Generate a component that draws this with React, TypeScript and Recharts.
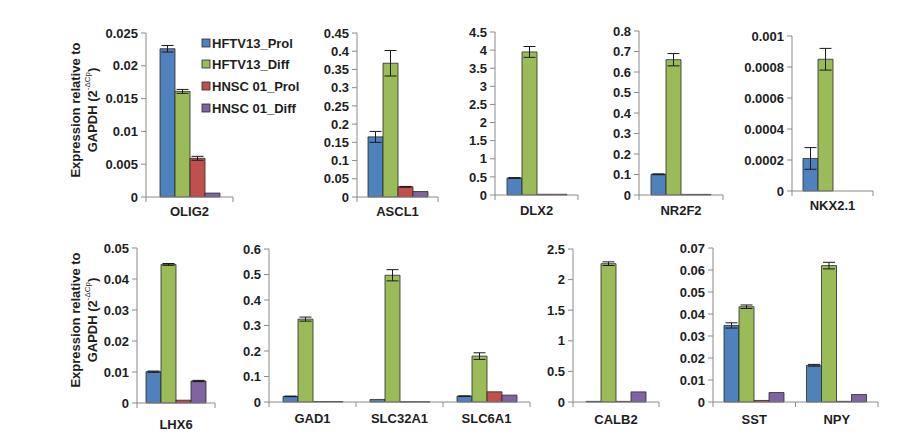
import React from "react";
import { BarChart, Bar, XAxis, YAxis, ErrorBar } from "recharts";

// genes in panel order, top row then bottom row
const genes = ["OLIG2", "ASCL1", "DLX2", "NR2F2", "NKX2.1", "LHX6", "GAD1", "SLC32A1", "SLC6A1", "CALB2", "SST", "NPY"];

const hftvProl = [0.0226, 0.165, 0.47, 0.101, 0.00021, 0.0101, 0.022, 0.01, 0.023, 0.01, 0.0348, 0.0167];
const hftvProlErr = [0.0005, 0.015, 0.01, 0.002, 0.00007, 0.0002, 0.001, 0, 0.001, 0, 0.0012, 0.0004];
const hftvDiff = [0.0161, 0.367, 3.95, 0.66, 0.00085, 0.0447, 0.325, 0.497, 0.18, 2.26, 0.0433, 0.062];
const hftvDiffErr = [0.0003, 0.035, 0.15, 0.03, 0.00007, 0.0003, 0.008, 0.022, 0.013, 0.03, 0.0008, 0.0015];
const hnscProl = [0.0059, 0.028, 0.02, 0.003, 0, 0.0009, 0.002, 0.001, 0.04, 0.01, 0.0007, 0.0003];
const hnscProlErr = [0.0003, 0.001, 0, 0, 0, 0, 0, 0, 0, 0, 0, 0];
const hnscDiff = [0.0006, 0.015, 0.02, 0.003, 0, 0.0071, 0.002, 0.001, 0.027, 0.165, 0.0043, 0.0034];
const hnscDiffErr = [0, 0, 0, 0, 0, 0.0002, 0, 0, 0, 0, 0, 0];

const seriesNames = ["HFTV13_Prol", "HFTV13_Diff", "HNSC 01_Prol", "HNSC 01_Diff"];
const COLORS = ["#4F81BD", "#9BBB59", "#C0504D", "#8064A2"];

const olig2Ticks = [0, 0.005, 0.01, 0.015, 0.02, 0.025];
const ascl1Ticks = [0, 0.05, 0.1, 0.15, 0.2, 0.25, 0.3, 0.35, 0.4, 0.45];
const dlx2Ticks = [0, 0.5, 1, 1.5, 2, 2.5, 3, 3.5, 4, 4.5];
const nr2f2Ticks = [0, 0.1, 0.2, 0.3, 0.4, 0.5, 0.6, 0.7, 0.8];
const nkx21Ticks = [0, 0.0002, 0.0004, 0.0006, 0.0008, 0.001];
const lhx6Ticks = [0, 0.01, 0.02, 0.03, 0.04, 0.05];
const gabaTicks = [0, 0.1, 0.2, 0.3, 0.4, 0.5, 0.6];
const calb2Ticks = [0, 0.5, 1, 1.5, 2, 2.5];
const sstNpyTicks = [0, 0.01, 0.02, 0.03, 0.04, 0.05, 0.06, 0.07];

const FONT = "'Liberation Sans', Arial, sans-serif";
const TEXT = "#1e1e1e";
const AXIS = "#8a8a8a";

const rows = genes.map((g, i) => ({
  gene: g,
  a: hftvProl[i],
  ae: hftvProlErr[i] || null,
  b: hftvDiff[i],
  be: hftvDiffErr[i] || null,
  c: hnscProl[i],
  ce: hnscProlErr[i] || null,
  d: hnscDiff[i],
  de: hnscDiffErr[i] || null,
}));

// layout: y-axis x, top tick y, zero y, x-axis end, label offset
const panels = [
  { idx: [0], ticks: olig2Ticks, ax: 146, top: 33, zero: 197, end: 233, dy: 14 },
  { idx: [1], ticks: ascl1Ticks, ax: 357, top: 33, zero: 197, end: 438, dy: 14 },
  { idx: [2], ticks: dlx2Ticks, ax: 495, top: 32, zero: 195, end: 578, dy: 15 },
  { idx: [3], ticks: nr2f2Ticks, ax: 639, top: 31, zero: 195, end: 723, dy: 15 },
  { idx: [4], ticks: nkx21Ticks, ax: 792, top: 36, zero: 191, end: 873, dy: 14 },
  { idx: [5], ticks: lhx6Ticks, ax: 137, top: 248, zero: 403, end: 215, dy: 21 },
  { idx: [6, 7, 8], ticks: gabaTicks, ax: 269, top: 249, zero: 402, end: 530, dy: 16 },
  { idx: [9], ticks: calb2Ticks, ax: 573, top: 249, zero: 402, end: 659, dy: 17 },
  { idx: [10, 11], ticks: sstNpyTicks, ax: 713, top: 248, zero: 402, end: 878, dy: 17 },
];

const YW = 60;
const MT = 12;
const MR = 4;
const XH = 34;

function GeneTick(props: any) {
  const { x, y, payload, index, bandW, labelDy } = props;
  const h = bandW / 2;
  return (
    <g>
      {index === 0 && <line x1={x - h} x2={x - h} y1={y} y2={y + 5} stroke={AXIS} />}
      <line x1={x + h} x2={x + h} y1={y} y2={y + 5} stroke={AXIS} />
      <text x={x} y={y + labelDy} textAnchor="middle" dominantBaseline="central" fontSize={13} fontWeight="bold" fontFamily={FONT} fill={TEXT}>
        {payload.value}
      </text>
    </g>
  );
}

function Panel({ p }: { p: (typeof panels)[number] }) {
  const data = p.idx.map((i) => rows[i]);
  const plotW = p.end - p.ax;
  const plotH = p.zero - p.top;
  const width = YW + plotW + MR;
  const height = MT + plotH + XH;
  const bandW = plotW / data.length;
  const keys = ["a", "b", "c", "d"];
  return (
    <div style={{ position: "absolute", left: p.ax - YW, top: p.top - MT }}>
      <BarChart width={width} height={height} data={data} barGap={0} margin={{ top: MT, right: MR, bottom: 0, left: 0 }}>
        <XAxis
          dataKey="gene"
          stroke={AXIS}
          tickLine={false}
          tickSize={0}
          tickMargin={0}
          height={XH}
          interval={0}
          tick={<GeneTick bandW={bandW} labelDy={p.dy} />}
        />
        <YAxis
          width={YW}
          domain={[0, p.ticks[p.ticks.length - 1]]}
          ticks={p.ticks}
          interval={0}
          stroke={AXIS}
          tickSize={5}
          tickMargin={3}
          tick={{ fontSize: 13, fontWeight: "bold", fontFamily: FONT, fill: TEXT }}
        />
        {keys.map((k, i) => (
          <Bar key={k} dataKey={k} fill={COLORS[i]} stroke="#2a2a2a" strokeWidth={0.8} barSize={15} isAnimationActive={false}>
            <ErrorBar dataKey={k + "e"} width={6} stroke="#1a1a1a" strokeWidth={1} direction="y" />
          </Bar>
        ))}
      </BarChart>
    </div>
  );
}

function AxisTitle({ cy }: { cy: number }) {
  return (
    <g fontFamily={FONT} fontWeight="bold" fontSize={13} fill={TEXT}>
      <text transform={`translate(75,${cy}) rotate(-90)`} textAnchor="middle" dominantBaseline="central">
        Expression relative to
      </text>
      <text transform={`translate(92,${cy}) rotate(-90)`} textAnchor="middle" dominantBaseline="central">
        GAPDH (2
        <tspan fontSize={8} fontWeight="normal" dy={-5}>
          -ΔCp
        </tspan>
        <tspan dy={5}>)</tspan>
      </text>
    </g>
  );
}

export default function App() {
  const legendY = [43, 64, 86, 108];
  return (
    <div style={{ position: "absolute", left: 0, top: 0, width: 909, height: 448, background: "#fff", overflow: "hidden" }}>
      {panels.map((p, i) => (
        <Panel key={i} p={p} />
      ))}
      <svg width={909} height={448} style={{ position: "absolute", left: 0, top: 0, pointerEvents: "none" }}>
        <AxisTitle cy={110} />
        <AxisTitle cy={320} />
        {seriesNames.map((n, i) => (
          <g key={n}>
            <rect x={202} y={legendY[i] - 4} width={8} height={8} fill={COLORS[i]} stroke="#2a2a2a" strokeWidth={0.8} />
            <text x={212} y={legendY[i]} dominantBaseline="central" fontFamily={FONT} fontWeight="bold" fontSize={13} fill={TEXT}>
              {n}
            </text>
          </g>
        ))}
      </svg>
    </div>
  );
}
